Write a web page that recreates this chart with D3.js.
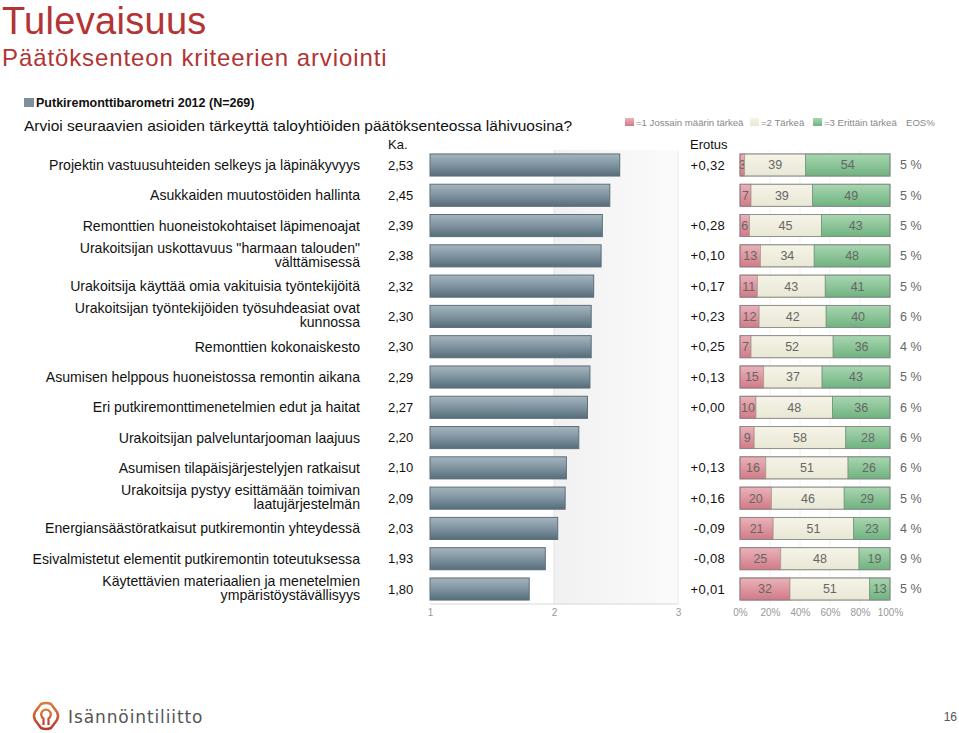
<!DOCTYPE html>
<html><head><meta charset="utf-8">
<script src="https://cdn.jsdelivr.net/npm/d3@7"></script>
<style>body{margin:0;background:#fff;}svg{display:block;font-family:"Liberation Sans",Arial,sans-serif;}</style>
</head><body>
<script>
const labels = [
 ["Projektin vastuusuhteiden selkeys ja läpinäkyvyys"],
 ["Asukkaiden muutostöiden hallinta"],
 ["Remonttien huoneistokohtaiset läpimenoajat"],
 ["Urakoitsijan uskottavuus \"harmaan talouden\"","välttämisessä"],
 ["Urakoitsija käyttää omia vakituisia työntekijöitä"],
 ["Urakoitsijan työntekijöiden työsuhdeasiat ovat","kunnossa"],
 ["Remonttien kokonaiskesto"],
 ["Asumisen helppous huoneistossa remontin aikana"],
 ["Eri putkiremonttimenetelmien edut ja haitat"],
 ["Urakoitsijan palveluntarjooman laajuus"],
 ["Asumisen tilapäisjärjestelyjen ratkaisut"],
 ["Urakoitsija pystyy esittämään toimivan","laatujärjestelmän"],
 ["Energiansäästöratkaisut putkiremontin yhteydessä"],
 ["Esivalmistetut elementit putkiremontin toteutuksessa"],
 ["Käytettävien materiaalien  ja menetelmien","ympäristöystävällisyys"]
];
const means = [2.53,2.45,2.39,2.38,2.32,2.30,2.30,2.29,2.27,2.20,2.10,2.09,2.03,1.93,1.80];
const erotus = ["+0,32","","+0,28","+0,10","+0,17","+0,23","+0,25","+0,13","+0,00","","+0,13","+0,16","-0,09","-0,08","+0,01"];
const p1 = [3,7,6,13,11,12,7,15,10,9,16,20,21,25,32];
const p2 = [39,39,45,34,43,42,52,37,48,58,51,46,51,48,51];
const p3 = [54,49,43,48,41,40,36,43,36,28,26,29,23,19,13];
const eos = [5,5,5,5,5,6,4,5,6,6,6,5,4,9,5];
const meanTicks = [1,2,3];
const pctTicks = [0,20,40,60,80,100];

const W=959,H=733;
const svg=d3.select("body").append("svg").attr("width",W).attr("height",H);
const defs=svg.append("defs");
function grad(id,stops,vertical=true){
  const g=defs.append("linearGradient").attr("id",id).attr("x1",0).attr("y1",0).attr("x2",vertical?0:1).attr("y2",vertical?1:0);
  stops.forEach(s=>g.append("stop").attr("offset",s[0]).attr("stop-color",s[1]));
}
grad("gBar",[[0,"#a5b5be"],[0.5,"#7f94a0"],[1,"#566c79"]]);
grad("gRed",[[0,"#e9b3ba"],[1,"#d27a87"]]);
grad("gBeige",[[0,"#f5f4e8"],[1,"#e9e7d4"]]);
grad("gGreen",[[0,"#a9d6b1"],[1,"#6fb37f"]]);
grad("gBg",[[0,"#f1f1f1"],[1,"#fbfbfb"]],false);
grad("gLogo",[[0,"#e07a3a"],[1,"#b8392e"]]);

// Titles
svg.append("text").attr("x",2).attr("y",34).attr("font-size",38).attr("fill","#b23434").attr("letter-spacing",0.3).text("Tulevaisuus");
svg.append("text").attr("x",2).attr("y",66).attr("font-size",24).attr("fill","#b23434").attr("letter-spacing",0.9).text("Päätöksenteon kriteerien arviointi");
svg.append("rect").attr("x",24).attr("y",98).attr("width",10).attr("height",9).attr("fill","#7c8f9b");
svg.append("text").attr("x",36).attr("y",107).attr("font-size",12.5).attr("font-weight","bold").attr("fill","#111").text("Putkiremonttibarometri 2012 (N=269)");
svg.append("text").attr("x",24).attr("y",131).attr("font-size",15.5).attr("fill","#111").text("Arvioi seuraavien asioiden tärkeyttä taloyhtiöiden päätöksenteossa lähivuosina?");
svg.append("text").attr("x",388).attr("y",149).attr("font-size",13).attr("fill","#111").text("Ka.");
svg.append("text").attr("x",690).attr("y",149).attr("font-size",13).attr("fill","#111").text("Erotus");

// Legend
const leg=svg.append("g").attr("font-size",9.6).attr("fill","#888");
const legItems=[["gRed","=1 Jossain määrin tärkeä",625],["gBeige","=2 Tärkeä",750],["gGreen","=3 Erittäin tärkeä",813]];
legItems.forEach(d=>{
  leg.append("rect").attr("x",d[2]).attr("y",118).attr("width",9).attr("height",8).attr("fill",`url(#${d[0]})`);
  leg.append("text").attr("x",d[2]+11).attr("y",126).text(d[1]);
});
leg.append("text").attr("x",906).attr("y",126).text("EOS%");

// Scales
const n=means.length;
const y=d3.scaleBand().domain(d3.range(n)).range([150,604]).paddingInner(0.27).paddingOuter(0.13);
const yc=i=>y(i)+y.bandwidth()/2;
const x=d3.scaleLinear().domain([1,3]).range([430,678]);
const xp=d3.scaleLinear().domain([0,100]).range([740,890]);

// Background of mean chart
svg.append("rect").attr("x",x(2)).attr("y",150).attr("width",x(3)-x(2)).attr("height",454).attr("fill","url(#gBg)");
svg.append("line").attr("x1",x(2)).attr("x2",x(2)).attr("y1",150).attr("y2",604).attr("stroke","#e4e4e4");
svg.append("line").attr("x1",x(1)).attr("x2",x(3)).attr("y1",604).attr("y2",604).attr("stroke","#d8d8d8");
svg.append("line").attr("x1",x(3)).attr("x2",x(3)).attr("y1",150).attr("y2",604).attr("stroke","#eaeaea");

// Mean axis
const ax=svg.append("g").attr("transform","translate(0,604)")
  .call(d3.axisBottom(x).tickValues(meanTicks).tickSize(0).tickPadding(5).tickFormat(d3.format("d")));
ax.select(".domain").remove();
ax.selectAll("text").attr("font-size",10).attr("fill","#999").attr("font-family","Liberation Sans, Arial");

// Pct grid lines
svg.append("g").selectAll("line").data(pctTicks.slice(1,-1)).join("line")
  .attr("x1",d=>xp(d)).attr("x2",d=>xp(d)).attr("y1",150).attr("y2",604).attr("stroke","#f0f0f0");
const axp=svg.append("g").attr("transform","translate(0,604)")
  .call(d3.axisBottom(xp).tickValues(pctTicks).tickSize(0).tickPadding(5).tickFormat(d=>d+"%"));
axp.select(".domain").remove();
axp.selectAll("text").attr("font-size",10).attr("fill","#999").attr("font-family","Liberation Sans, Arial");

// Labels
const lab=svg.append("g").attr("font-size",14.1).attr("fill","#111").attr("text-anchor","end");
labels.forEach((l,i)=>{
  const t=lab.append("text").attr("x",360).attr("y",yc(i));
  if(l.length===1){t.append("tspan").attr("x",360).attr("dy","0.35em").text(l[0]);}
  else{
    t.append("tspan").attr("x",360).attr("dy","-0.22em").text(l[0]);
    t.append("tspan").attr("x",360).attr("dy","1.0em").text(l[1]);
  }
});
// Means text
svg.append("g").selectAll("text").data(means).join("text")
  .attr("x",388).attr("y",(d,i)=>yc(i)).attr("dy","0.35em").attr("font-size",13).attr("fill","#111")
  .text(d=>d3.format(".2f")(d).replace(".",","));
// Mean bars
svg.append("g").selectAll("rect").data(means).join("rect")
  .attr("x",x(1)).attr("y",(d,i)=>y(i)).attr("width",d=>x(d)-x(1)).attr("height",y.bandwidth())
  .attr("fill","url(#gBar)").attr("stroke","#5e6f79").attr("stroke-width",1);
// Erotus
svg.append("g").selectAll("text").data(erotus).join("text")
  .attr("x",725).attr("y",(d,i)=>yc(i)).attr("dy","0.35em").attr("text-anchor","end").attr("font-size",13).attr("fill","#111")
  .attr("letter-spacing",0.3).text(d=>d);

// Stacked bars
const rows=d3.range(n).map(i=>{
  const tot=p1[i]+p2[i]+p3[i];
  const vals=[p1[i],p2[i],p3[i]];
  let c=0;
  return vals.map((v,k)=>{const s=c; c+=v/tot*100; return {i,k,v,s,e:c};});
});
const fills=["url(#gRed)","url(#gBeige)","url(#gGreen)"];
const strokes=["#a56a72","#a8a797","#6d9577"];
const sg=svg.append("g");
rows.forEach(r=>{
  r.forEach(seg=>{
    const w=xp(seg.e)-xp(seg.s);
    sg.append("rect").attr("x",xp(seg.s)).attr("y",y(seg.i)).attr("width",w).attr("height",y.bandwidth())
      .attr("fill",fills[seg.k]).attr("stroke",strokes[seg.k]).attr("stroke-width",0.8);
    sg.append("text").attr("x",xp(seg.s)+w/2).attr("y",yc(seg.i)).attr("dy","0.35em")
      .attr("text-anchor","middle").attr("font-size",12.5).attr("fill","#666").text(seg.v);
  });
  sg.append("rect").attr("x",xp(0)).attr("y",y(r[0].i)).attr("width",xp(100)-xp(0)).attr("height",y.bandwidth())
    .attr("fill","none").attr("stroke","#888").attr("stroke-width",0.8);
});
// EOS
svg.append("g").selectAll("text").data(eos).join("text")
  .attr("x",900).attr("y",(d,i)=>yc(i)).attr("dy","0.35em").attr("font-size",12.5).attr("fill","#666")
  .text(d=>d+" %");

// Footer logo
const lg=svg.append("g").attr("transform","translate(33,703)");
lg.append("path").attr("d","M8,1 Q13,-1 18,1 L24,9 Q26,13 24,17 L18,25 Q13,27 8,25 L2,17 Q0,13 2,9 Z").attr("fill","none").attr("stroke","url(#gLogo)").attr("stroke-width",2.5).attr("stroke-linejoin","round");
lg.append("path").attr("d","M10.5,22 L10.5,15.5 A4.8,4.8 0 1 1 15.5,15.5 L15.5,22").attr("fill","none").attr("stroke","url(#gLogo)").attr("stroke-width",2.2);
svg.append("text").attr("x",68).attr("y",723).attr("font-size",17).attr("fill","#555").attr("font-family","DejaVu Sans, sans-serif").attr("letter-spacing",0.9).text("Isännöintiliitto");
svg.append("text").attr("x",957).attr("y",721).attr("text-anchor","end").attr("font-size",12).attr("fill","#555").text("16");
</script>
</body></html>
